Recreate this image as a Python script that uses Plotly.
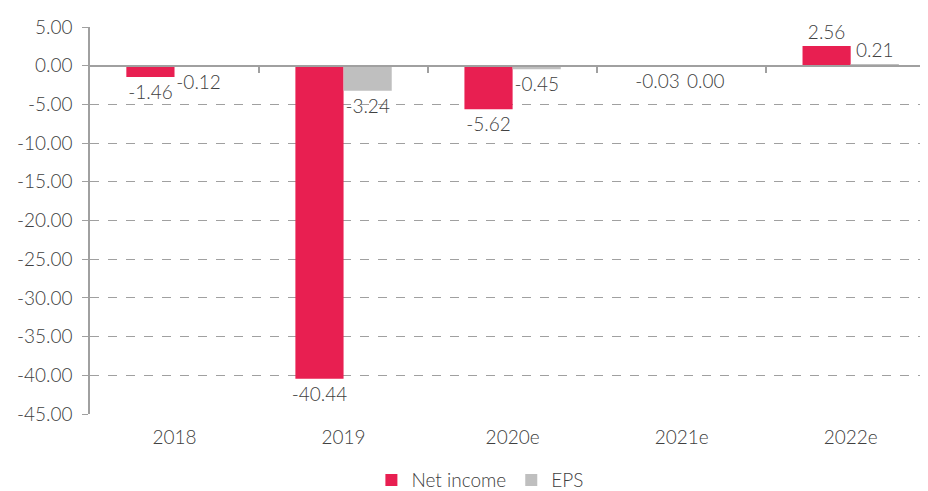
import plotly.graph_objects as go

categories = ["2018", "2019", "2020e", "2021e", "2022e"]
net_income = [-1.46, -40.44, -5.62, -0.03, 2.56]
eps = [-0.12, -3.24, -0.45, -0.001, 0.21]
y_tick_vals = [5, 0, -5, -10, -15, -20, -25, -30, -35, -40, -45]
y_tick_text = ["5.00", "0.00", "-5.00", "-10.00", "-15.00", "-20.00", "-25.00",
               "-30.00", "-35.00", "-40.00", "-45.00"]

RED = "#E81F51"
GREY = "#BFBFBF"
TXT = "#404040"
LINE = "#A0A0A0"
FONT = "Lato"
FS = 19


def fmt(v):
    s = f"{v:.2f}"
    return "0.00" if s == "-0.00" else s


fig = go.Figure()
for name, vals, col in [("Net income", net_income, RED), ("EPS", eps, GREY)]:
    fig.add_trace(go.Bar(
        name=name, x=list(range(len(categories))), y=vals,
        marker=dict(color=col, line=dict(width=0)),
        text=[fmt(v) for v in vals], textposition="outside",
        textangle=0, constraintext="none", cliponaxis=False,
        textfont=dict(family=FONT, size=FS, color=TXT, weight=300),
    ))

fig.update_layout(
    width=920, height=483,
    margin=dict(l=82, r=8, t=19, b=77),
    paper_bgcolor="white", plot_bgcolor="white",
    barmode="group", bargap=0.43, bargroupgap=0,
    font=dict(family=FONT, size=FS, color=TXT, weight=300),
    showlegend=True,
    legend=dict(orientation="h", x=0.395, xanchor="left", xref="container",
                y=0.062, yanchor="top", yref="container",
                font=dict(family=FONT, size=FS, color=TXT, weight=300),
                itemwidth=30, traceorder="normal"),
    xaxis=dict(
        range=[-0.5, 4.41], tickmode="array", automargin=False,
        tickvals=list(range(len(categories))), ticktext=categories,
        showgrid=False, zeroline=False, showline=False, ticks="",
        ticklabelstandoff=10,
        tickfont=dict(family=FONT, size=FS, color=TXT, weight=300),
    ),
    xaxis2=dict(
        overlaying="x", anchor="free", position=0.9, side="bottom", automargin=False,
        range=[-0.5, 4.41], tickmode="array",
        tickvals=[0.5, 1.5, 2.5, 3.5], showticklabels=False,
        ticks="outside", ticklen=6, tickcolor=LINE, tickwidth=1.5,
        showgrid=False, zeroline=False, showline=True, linecolor=LINE, linewidth=2,
    ),
    yaxis=dict(
        range=[-45, 5], tickmode="array", tickvals=y_tick_vals, ticktext=y_tick_text,
        automargin=False,
        showgrid=True, gridcolor=LINE, griddash="dash", gridwidth=1,
        zeroline=False, showline=True, linecolor=LINE, linewidth=1.5,
        ticks="outside", ticklen=6, tickcolor=LINE, ticklabelstandoff=6,
        tickfont=dict(family=FONT, size=FS, color=TXT, weight=300),
    ),
)
# invisible trace to activate the zero-line category axis
fig.add_trace(go.Scatter(x=[0], y=[0], xaxis="x2", mode="markers",
                         marker=dict(opacity=0), showlegend=False, hoverinfo="skip"))

fig.write_html("out.html")
